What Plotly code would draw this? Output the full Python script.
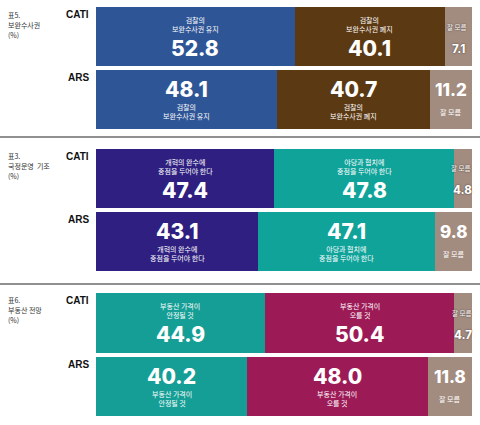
import plotly.graph_objects as go

methods = ["CATI", "ARS"]

s1_title = ["표5.", "보완수사권", "(%)"]
s1_labels = ["검찰의<br>보완수사권 유지", "검찰의<br>보완수사권 폐지", "잘 모름"]
s1_cati = [52.8, 40.1, 7.1]
s1_ars = [48.1, 40.7, 11.2]
s1_colors = ["#2E5596", "#5B3912", "#A28B7F"]

s2_title = ["표3.", "국정운영  기조", "(%)"]
s2_labels = ["개혁의 완수에<br>중점을 두어야 한다", "야당과 협치에<br>중점을 두어야 한다", "잘 모름"]
s2_cati = [47.4, 47.8, 4.8]
s2_ars = [43.1, 47.1, 9.8]
s2_colors = ["#2E1F80", "#10A39A", "#A28B7F"]

s3_title = ["표6.", "부동산 전망", "(%)"]
s3_labels = ["부동산 가격이<br>안정될 것", "부동산 가격이<br>오를 것", "잘 모름"]
s3_cati = [44.9, 50.4, 4.7]
s3_ars = [40.2, 48.0, 11.8]
s3_colors = ["#159E95", "#9C1A56", "#A28B7F"]

sections = [
    (s1_title, s1_labels, s1_cati, s1_ars, s1_colors),
    (s2_title, s2_labels, s2_cati, s2_ars, s2_colors),
    (s3_title, s3_labels, s3_cati, s3_ars, s3_colors),
]

W, H = 480, 425
X0, X1 = 96 / W, 472 / W
# pixel extents of each section's bar area (top, bottom)
sec_px = [(7, 129), (149, 271), (293, 416)]
title_px = [15, 156, 300]
sep_px = [137, 284]
BW = 0.937
BAR_H = 59

KR = "Noto Sans CJK KR"
NUM = "Inter"
SHADOW = "0px 0px 1.5px rgba(40,30,25,0.9)"

fig = go.Figure()
annotations = []
layout_axes = {}

for i, (title, labels, cati, ars, colors) in enumerate(sections):
    n = "" if i == 0 else str(i + 1)
    xa, ya = "x" + n, "y" + n
    for j in range(3):
        fig.add_trace(go.Bar(
            x=[cati[j], ars[j]], y=methods, orientation="h",
            width=BW, marker=dict(color=colors[j], line=dict(width=0)),
            xaxis=xa, yaxis=ya, showlegend=False, hoverinfo="skip",
        ))
    top, bot = sec_px[i]
    layout_axes["xaxis" + n] = dict(domain=[X0, X1], range=[0, 100],
                                    visible=False, fixedrange=True, anchor=ya)
    layout_axes["yaxis" + n] = dict(domain=[1 - bot / H, 1 - top / H], type="category",
                                    categoryorder="array", categoryarray=["ARS", "CATI"],
                                    range=[-BW / 2, 1 + BW / 2], visible=False, anchor=xa)
    # left title
    for k, t in enumerate(title):
        annotations.append(dict(xref="paper", yref="paper", x=6 / W, y=1 - (title_px[i] + k * 10) / H,
                                text=t, showarrow=False, xanchor="left", yanchor="middle",
                                font=dict(family=KR, size=7, color="#333333")))
    centers = {"CATI": top + BAR_H / 2, "ARS": bot - BAR_H / 2}
    # method labels
    for m in methods:
        annotations.append(dict(xref="paper", yref="paper", x=91 / W,
                                y=1 - (centers[m] - BAR_H / 2) / H,
                                text="<b>%s</b>" % m, showarrow=False, xanchor="right", yanchor="top",
                                font=dict(family="Liberation Sans", size=10, color="#111111")))
    # in-bar texts
    for m, vals in zip(methods, [cati, ars]):
        start = 0
        yc = 1 - centers[m] / H
        for j in range(3):
            v = vals[j]
            cx = start + v / 2
            start += v
            px = X0 + (X1 - X0) * cx / 100
            small = j == 2
            narrow = small and m == "CATI"
            nsize = 11.5 if narrow else (17 if small else 21)
            lsize = 6.5 if narrow else 7
            shadow = SHADOW if narrow else "none"
            if m == "CATI":
                lab_shift, num_shift = (10 if small else 12), -12
            else:
                lab_shift, num_shift = -12, 10
            annotations.append(dict(xref="paper", yref="paper", x=px, y=yc, yshift=num_shift,
                                    text="%.1f" % v, showarrow=False,
                                    xanchor="center", yanchor="middle",
                                    font=dict(family=NUM, size=nsize, color="white", weight=800,
                                              shadow=shadow)))
            annotations.append(dict(xref="paper", yref="paper", x=px, y=yc, yshift=lab_shift,
                                    xshift=-2 if narrow else 0,
                                    text=labels[j], showarrow=False,
                                    xanchor="center", yanchor="middle",
                                    font=dict(family=KR, size=lsize, color="white", shadow=shadow)))

shapes = [dict(type="line", xref="paper", yref="paper", x0=0, x1=1,
               y0=1 - s / H, y1=1 - s / H, line=dict(color="#909090", width=2))
          for s in sep_px]

fig.update_layout(
    width=W, height=H, margin=dict(l=0, r=0, t=0, b=0),
    barmode="stack", bargap=0,
    paper_bgcolor="white", plot_bgcolor="white",
    annotations=annotations, shapes=shapes,
    **layout_axes,
)

fig.write_html(
    "out.html",
    config={"displayModeBar": False},
    post_script="document.body.style.margin='0';document.body.style.overflow='hidden';",
)
